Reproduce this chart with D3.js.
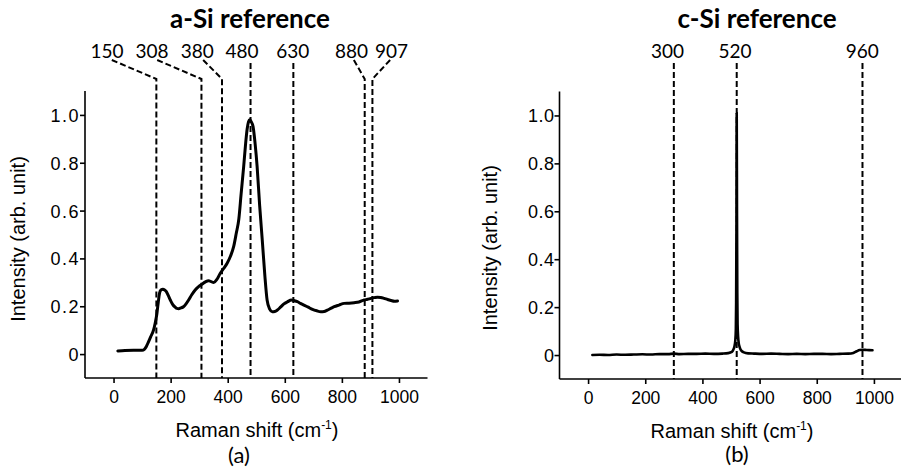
<!DOCTYPE html>
<html>
<head>
<meta charset="utf-8">
<script src="https://cdn.jsdelivr.net/npm/d3@7"></script>
<style>
  html, body { margin: 0; padding: 0; background: #fff; }
  svg { display: block; }
</style>
</head>
<body>
<svg id="fig" width="901" height="469"></svg>
<script>
// Raman spectra of amorphous and crystalline silicon references.

// a-Si spectrum: [Raman shift (cm-1), normalised intensity]
const aSiSpectrum = [
  [15,0.013],[40,0.015],[70,0.016],[100,0.016],[108,0.020],[115,0.032],[122,0.050],
  [130,0.072],[140,0.100],[146,0.130],[152,0.170],[157,0.220],[161,0.254],[166,0.268],
  [173,0.271],[179,0.268],[185,0.261],[192,0.244],[199,0.226],[207,0.208],[216,0.196],
  [222,0.191],[228,0.190],[236,0.193],[245,0.198],[254,0.210],[263,0.226],[274,0.248],
  [286,0.268],[298,0.282],[311,0.293],[322,0.302],[333,0.307],[342,0.303],[351,0.299],
  [362,0.312],[374,0.338],[386,0.358],[398,0.380],[410,0.410],[421,0.450],[430,0.505],
  [439,0.565],[447,0.670],[456,0.785],[462,0.870],[468,0.940],[473,0.972],[477,0.980],
  [482,0.972],[489,0.950],[496,0.880],[503,0.785],[512,0.620],[521,0.478],[530,0.330],
  [538,0.226],[547,0.188],[556,0.177],[565,0.178],[574,0.184],[585,0.196],[597,0.210],
  [610,0.219],[623,0.226],[634,0.223],[644,0.219],[655,0.212],[667,0.205],[682,0.196],
  [697,0.187],[712,0.181],[726,0.177],[738,0.178],[749,0.184],[761,0.191],[773,0.198],
  [790,0.205],[808,0.212],[825,0.213],[843,0.215],[860,0.218],[878,0.226],[890,0.229],
  [902,0.233],[914,0.236],[925,0.238],[936,0.237],[948,0.233],[960,0.228],[972,0.224],
  [984,0.221],[995,0.222]
];

// c-Si spectrum: [Raman shift (cm-1), normalised intensity]
const cSiSpectrum = [
  [15,0.000],[40,0.001],[70,0.000],[100,0.002],[130,0.001],[160,0.002],[190,0.003],
  [220,0.002],[250,0.004],[280,0.004],[300,0.006],[320,0.004],[350,0.005],[380,0.005],
  [410,0.006],[440,0.005],[470,0.006],[490,0.008],[503,0.013],[508,0.022],[512,0.036],
  [515,0.060],[517,0.110],[518,0.220],[519,0.520],[520,1.010],[521,0.580],[522,0.260],
  [523,0.130],[525,0.075],[527,0.050],[530,0.034],[535,0.020],[545,0.011],[560,0.007],
  [580,0.006],[610,0.005],[640,0.006],[670,0.005],[700,0.004],[730,0.005],[760,0.004],
  [790,0.005],[820,0.005],[850,0.004],[880,0.005],[910,0.006],[928,0.009],[940,0.016],
  [950,0.021],[960,0.022],[975,0.021],[995,0.020]
];

// Marked Raman bands (cm-1)
const aSiBands = [150, 308, 380, 480, 630, 880, 907];
const cSiBands = [300, 520, 960];

// Where each band label sits and where its leader starts (cm-1)
const aSiLabelAt = [-23, 135, 293, 450, 628, 834, 974];
const aSiLeaderFrom = [-6, 153, 314, null, null, 842, 969];
const cSiLabelAt = [278, 514, 959];
const cSiLeaderFrom = [null, null, null];

// Axis ticks
const xMajorTicks = [0, 200, 400, 600, 800, 1000];
const xMinorTicks = [-100, 100, 300, 500, 700, 900, 1100];
const yMajorTicks = [0, 0.2, 0.4, 0.6, 0.8, 1.0];
const yMinorTicks = [-0.1, 0.1, 0.3, 0.5, 0.7, 0.9, 1.1];

const svg = d3.select("#fig");
svg.append("rect").attr("width", 901).attr("height", 469).attr("fill", "#fff");

const AXIS_FONT = "'Liberation Sans', Arial, sans-serif";
const LABEL_FONT = "Lato, 'Open Sans', sans-serif";

function drawPanel(p) {
  const x = d3.scaleLinear().domain([-100, 1100]).range(p.xRange);
  const y = d3.scaleLinear().domain([-0.1, 1.1]).range(p.yRange);
  const g = svg.append("g");
  const x0 = p.xRange[0], yb = p.yRange[0];

  // band markers with dashed leaders
  p.bands.forEach((b, i) => {
    const bx = x(b);
    const from = p.leaderFrom[i];
    const path = d3.path();
    if (from === null) {
      path.moveTo(bx, 63);
    } else {
      path.moveTo(x(from), 60);
      path.lineTo(bx, 79);
    }
    path.lineTo(bx, yb);
    g.append("path")
      .attr("d", path.toString())
      .attr("fill", "none")
      .attr("stroke", "#000")
      .attr("stroke-width", 2)
      .attr("stroke-dasharray", "6,3");
    g.append("text")
      .attr("x", x(p.labelAt[i]))
      .attr("y", 58)
      .attr("text-anchor", "middle")
      .attr("font-family", LABEL_FONT)
      .attr("font-size", 19)
      .attr("fill", "#000")
      .text(String(b));
  });

  // spectrum
  const line = d3.line()
    .x(d => x(d[0]))
    .y(d => y(d[1]))
    .curve(d3.curveMonotoneX);
  g.append("path")
    .datum(p.data)
    .attr("d", line)
    .attr("fill", "none")
    .attr("stroke", "#000")
    .attr("stroke-width", p.lineWidth)
    .attr("stroke-linejoin", "round")
    .attr("stroke-linecap", "round");

  // bottom axis
  const gx = g.append("g").attr("transform", `translate(0,${yb})`);
  gx.call(d3.axisBottom(x).tickValues(xMinorTicks).tickSize(3).tickFormat(""));
  gx.call(d3.axisBottom(x).tickValues(xMajorTicks).tickSize(5).tickFormat(d3.format("d")));
  gx.select(".domain").attr("d", `M${p.xRange[0]},0H${p.xRange[1]}`);
  gx.selectAll("path, line").attr("stroke", "#000").attr("stroke-width", 1.6);
  gx.selectAll("text")
    .attr("y", 25).attr("dy", 0)
    .attr("font-family", AXIS_FONT).attr("font-size", 17.5).attr("fill", "#000");

  // left axis
  const gy = g.append("g").attr("transform", `translate(${x0},0)`);
  gy.call(d3.axisLeft(y).tickValues(yMinorTicks).tickSize(3).tickFormat(""));
  gy.call(d3.axisLeft(y).tickValues(yMajorTicks).tickSize(5)
    .tickFormat(d => d === 0 ? "0" : d3.format(".1f")(d)));
  gy.select(".domain").attr("d", `M0,${p.yRange[0]}V${p.yRange[1]}`);
  gy.selectAll("path, line").attr("stroke", "#000").attr("stroke-width", 1.6);
  gy.selectAll("text")
    .attr("x", -5).attr("dy", "0.36em")
    .attr("letter-spacing", p.yLabelSpacing)
    .attr("font-family", AXIS_FONT).attr("font-size", 18).attr("fill", "#000");

  // axis titles
  const xt = g.append("text")
    .attr("x", p.xTitleX).attr("y", p.xTitleY)
    .attr("text-anchor", "middle")
    .attr("font-family", AXIS_FONT).attr("font-size", 20).attr("fill", "#000");
  xt.append("tspan").text("Raman shift (cm");
  xt.append("tspan").attr("font-size", 12).attr("dy", -8).text("-1");
  xt.append("tspan").attr("dy", 8).text(")");

  g.append("text")
    .attr("transform", `translate(${p.yTitleX},${p.yTitleY}) rotate(-90)`)
    .attr("text-anchor", "middle")
    .attr("font-family", AXIS_FONT).attr("font-size", 20).attr("fill", "#000")
    .text("Intensity (arb. unit)");

  // panel title and caption
  g.append("text")
    .attr("x", p.titleX).attr("y", 28)
    .attr("text-anchor", "middle")
    .attr("font-family", LABEL_FONT).attr("font-weight", 700).attr("font-size", 26)
    .attr("fill", "#000")
    .text(p.title);
  g.append("text")
    .attr("x", p.captionX).attr("y", p.captionY)
    .attr("text-anchor", "middle")
    .attr("font-family", LABEL_FONT).attr("font-size", 22).attr("fill", "#000")
    .text(p.caption);
}

drawPanel({
  xRange: [85, 427.5], yRange: [378, 91],
  data: aSiSpectrum, lineWidth: 3,
  bands: aSiBands, labelAt: aSiLabelAt, leaderFrom: aSiLeaderFrom,
  title: "a-Si reference", titleX: 250,
  caption: "(a)", captionX: 239, captionY: 463,
  xTitleX: 257, xTitleY: 437,
  yTitleX: 25, yTitleY: 239,
  yLabelSpacing: 1.5
});

drawPanel({
  xRange: [559.5, 902.5], yRange: [379, 91.5],
  data: cSiSpectrum, lineWidth: 2.6,
  bands: cSiBands, labelAt: cSiLabelAt, leaderFrom: cSiLeaderFrom,
  title: "c-Si reference", titleX: 757,
  caption: "(b)", captionX: 737, captionY: 462,
  xTitleX: 732, xTitleY: 438,
  yTitleX: 497, yTitleY: 248,
  yLabelSpacing: 0.5
});
</script>
</body>
</html>
